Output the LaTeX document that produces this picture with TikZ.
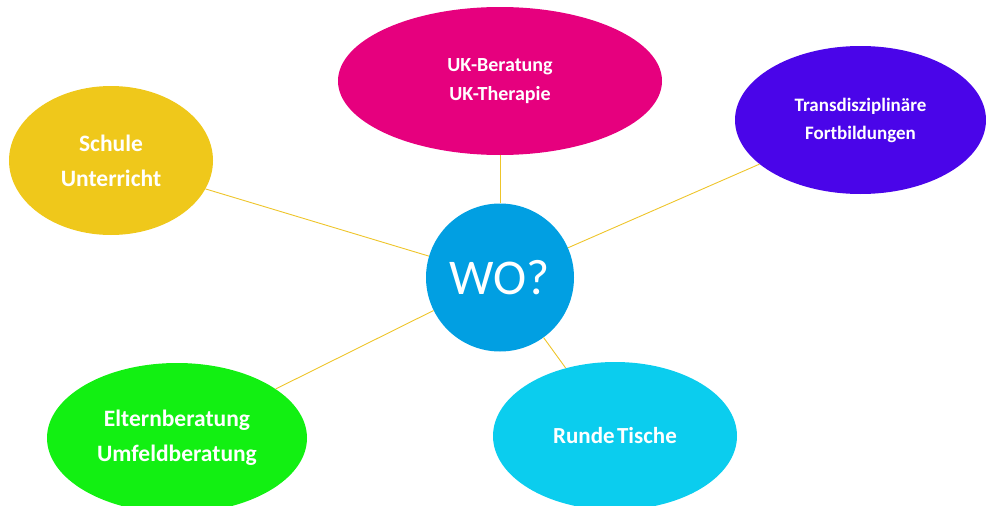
\documentclass[tikz,border=0pt]{standalone}
\usepackage{fontspec}
\setmainfont{Carlito}
\usetikzlibrary{shapes.geometric}
\definecolor{ukc}{HTML}{E6007E}
\definecolor{trc}{HTML}{4A05E9}
\definecolor{woc}{HTML}{019FE2}
\definecolor{shc}{HTML}{EFC81B}
\definecolor{elc}{HTML}{12F012}
\definecolor{rtc}{HTML}{0BCDEE}
\definecolor{lnc}{HTML}{EEC52A}
\tikzset{
  bubble/.style={ellipse, inner sep=0pt, text=white, align=center, font=\bfseries},
  link/.style={draw=lnc, line width=0.9pt},
}
\begin{document}
\begin{tikzpicture}[x=1pt,y=-1pt]
\useasboundingbox (0,0) rectangle (986,506);
\clip (0,0) rectangle (986,506);
\node[circle, fill=woc, minimum size=148pt, inner sep=0pt, text=white, font=\fontsize{50}{56}\selectfont] (wo) at (500,277.5) {WO?};
\node[bubble, fill=ukc, minimum width=324pt, minimum height=148pt, font=\bfseries\fontsize{20}{29}\selectfont] (uk) at (500,81) {UK-Beratung\\UK-Therapie};
\node[bubble, fill=trc, minimum width=251pt, minimum height=148pt, font=\bfseries\fontsize{19}{28}\selectfont] (tr) at (860.5,120) {Transdisziplinäre\\Fortbildungen};
\node[bubble, fill=shc, minimum width=204pt, minimum height=149pt, font=\bfseries\fontsize{23.5}{35}\selectfont] (sh) at (111,160.5) {Schule\\Unterricht};
\node[bubble, fill=elc, minimum width=260pt, minimum height=150pt, font=\bfseries\fontsize{23.5}{35}\selectfont] (el) at (177,438) {Elternberatung\\Umfeldberatung};
\node[bubble, fill=rtc, minimum width=244pt, minimum height=148pt, font=\bfseries\fontsize{23}{35}\selectfont] (rt) at (615,436) {Runde\hspace{0.1em}Tische};
\draw[link] (wo) -- (uk);
\draw[link] (wo) -- (tr);
\draw[link] (wo) -- (sh);
\draw[link] (wo) -- (el);
\draw[link] (wo) -- (rt);
\end{tikzpicture}
\end{document}
